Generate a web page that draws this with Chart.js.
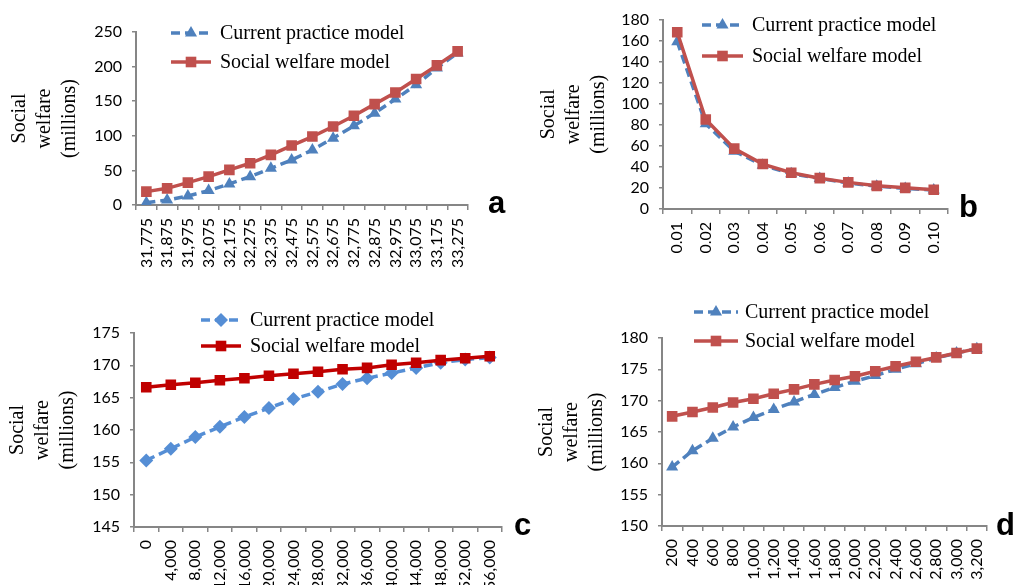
<!DOCTYPE html>
<html>
<head>
<meta charset="utf-8">
<script src="https://cdn.jsdelivr.net/npm/chart.js@4.4.0/dist/chart.umd.min.js"></script>
<style>
  html, body { margin:0; padding:0; background:#fff; }
  #wrap { position:relative; width:1014px; height:585px; overflow:hidden; }
  #wrap canvas { position:absolute; left:0; top:0; }
  .tag { position:absolute; font:bold 31px "Liberation Sans", Arial, sans-serif; line-height:31px; color:#000; }
</style>
</head>
<body>
<div id="wrap">
  <canvas id="ca" width="1014" height="585"></canvas>
  <canvas id="cb" width="1014" height="585"></canvas>
  <canvas id="cc" width="1014" height="585"></canvas>
  <canvas id="cd" width="1014" height="585"></canvas>
  <div class="tag" style="left:488px;top:187px">a</div>
  <div class="tag" style="left:959px;top:191px">b</div>
  <div class="tag" style="left:514px;top:509px">c</div>
  <div class="tag" style="left:996px;top:509px">d</div>
</div>
<script>
// ---- data ----
var aLabels  = ['31,775','31,875','31,975','32,075','32,175','32,275','32,375','32,475','32,575','32,675','32,775','32,875','32,975','33,075','33,175','33,275'];
var aCurrent = [3.4, 7.2, 13, 20.8, 30.4, 41, 53, 65, 79.6, 96.5, 114.4, 132.7, 153, 173.7, 197.9, 219.6];
var aSocial  = [19.3, 24.1, 32.3, 41, 50.7, 60.3, 72.4, 85.9, 98.9, 113.4, 128.9, 145.8, 162.6, 182, 201.7, 222];

var bLabels  = ['0.01','0.02','0.03','0.04','0.05','0.06','0.07','0.08','0.09','0.10'];
var bCurrent = [159, 81, 55, 41.5, 33.5, 29, 24.7, 21.7, 19.5, 18];
var bSocial  = [168, 85, 57.4, 42.7, 34.5, 29.3, 25.3, 22, 20.1, 18.3];

var cLabels  = ['0','4,000','8,000','12,000','16,000','20,000','24,000','28,000','32,000','36,000','40,000','44,000','48,000','52,000','56,000'];
var cCurrent = [155.3, 157.1, 158.9, 160.5, 162.0, 163.4, 164.8, 165.9, 167.1, 168.0, 168.8, 169.6, 170.4, 170.9, 171.2];
var cSocial  = [166.6, 167.0, 167.3, 167.7, 168.0, 168.4, 168.7, 169.0, 169.4, 169.6, 170.1, 170.4, 170.8, 171.1, 171.4];

var dLabels  = ['200','400','600','800','1,000','1,200','1,400','1,600','1,800','2,000','2,200','2,400','2,600','2,800','3,000','3,200'];
var dCurrent = [159.4, 162.0, 164.0, 165.8, 167.3, 168.6, 169.8, 171.0, 172.1, 173.1, 174.0, 175.0, 175.9, 176.8, 177.6, 178.3];
var dSocial  = [167.5, 168.2, 168.9, 169.7, 170.3, 171.1, 171.8, 172.6, 173.3, 173.9, 174.7, 175.5, 176.2, 176.9, 177.6, 178.3];

var seriesNames = ['Current practice model', 'Social welfare model'];
var yTitle = ['Social', 'welfare', '(millions)'];

var AXIS = '#868686';
var SERIF = '"Liberation Serif", "Times New Roman", serif';
var LW = 3.5;

function drawMarker(ctx, style, x, y, r, color){
    ctx.save();
    ctx.fillStyle = color;
    ctx.beginPath();
    if (style === 'triangle') {
        ctx.moveTo(x, y - r);
        ctx.lineTo(x + r*0.866, y + r*0.5);
        ctx.lineTo(x - r*0.866, y + r*0.5);
    } else if (style === 'rectRot') {
        ctx.moveTo(x, y - r); ctx.lineTo(x + r, y); ctx.lineTo(x, y + r); ctx.lineTo(x - r, y);
    } else {
        var s = r * Math.SQRT1_2;
        ctx.rect(x - s, y - s, 2*s, 2*s);
    }
    ctx.closePath();
    ctx.fill();
    ctx.restore();
}

// legend drawn inside the plot, like the original figure
var boxLegend = {
    id: 'boxLegend',
    afterDraw: function(chart, args, opts){
        var ctx = chart.ctx;
        chart.data.datasets.forEach(function(ds, i){
            var y = opts.rows[i];
            ctx.save();
            ctx.strokeStyle = ds.borderColor;
            ctx.lineWidth = LW;
            ctx.setLineDash(ds.borderDash || []);
            ctx.beginPath();
            ctx.moveTo(opts.x, y);
            ctx.lineTo(opts.x + opts.len, y);
            ctx.stroke();
            ctx.restore();
            drawMarker(ctx, ds.pointStyle, opts.x + opts.len/2, y, ds.pointRadius, ds.borderColor);
            ctx.save();
            ctx.fillStyle = '#000';
            ctx.font = '20px ' + SERIF;
            ctx.textBaseline = 'middle';
            ctx.fillText(ds.label, opts.textX, y + 1);
            ctx.restore();
        });
    }
};

function makeChart(id, labels, cur, soc, look){
    var ctx = document.getElementById(id).getContext('2d');
    return new Chart(ctx, {
        type: 'line',
        data: {
            labels: labels,
            datasets: [
                {
                    label: seriesNames[0],
                    data: cur,
                    borderColor: look.blue,
                    backgroundColor: look.blue,
                    borderWidth: LW,
                    borderDash: [9, 5],
                    pointStyle: look.bluePoint,
                    pointRadius: 7,
                    pointBackgroundColor: look.blue,
                    pointBorderColor: look.blue,
                    pointBorderWidth: 0,
                    tension: 0,
                    order: 1
                },
                {
                    label: seriesNames[1],
                    data: soc,
                    borderColor: look.red,
                    backgroundColor: look.red,
                    borderWidth: LW,
                    pointStyle: 'rect',
                    pointRadius: 7.5,
                    pointBackgroundColor: look.red,
                    pointBorderColor: look.red,
                    pointBorderWidth: 0,
                    tension: 0,
                    order: 0
                }
            ]
        },
        options: {
            responsive: false,
            animation: false,
            events: [],
            layout: { padding: look.pad },
            plugins: {
                legend: { display: false },
                tooltip: { enabled: false },
                boxLegend: look.legend
            },
            scales: {
                x: {
                    type: 'category',
                    offset: true,
                    afterFit: function(s){ s.height = look.xH; },
                    grid: { offset: true, drawOnChartArea: false, drawTicks: true, tickLength: 5, color: AXIS, lineWidth: 1.5 },
                    border: { display: true, color: AXIS, width: 2 },
                    ticks: {
                        autoSkip: false, minRotation: 90, maxRotation: 90, padding: 8,
                        color: '#000', font: { family: 'Lato', size: 16 }
                    }
                },
                y: {
                    min: look.min, max: look.max,
                    afterFit: function(s){ s.width = look.yW; },
                    grid: { drawOnChartArea: false, drawTicks: true, tickLength: 4, color: AXIS, lineWidth: 1.5 },
                    border: { display: true, color: AXIS, width: 2 },
                    ticks: { stepSize: look.step, autoSkip: false, padding: 10, color: '#000', font: { family: 'Lato', size: 16 } },
                    title: {
                        display: true, text: yTitle, color: '#000',
                        font: { family: SERIF, size: 20, lineHeight: 1.25 },
                        padding: { top: look.titlePad, bottom: 0 }
                    }
                }
            }
        },
        plugins: [boxLegend]
    });
}

var excelBlue = '#4F81BD', excelRed = '#C0504D';

makeChart('ca', aLabels, aCurrent, aSocial, {
    blue: excelBlue, red: excelRed, bluePoint: 'triangle',
    min: 0, max: 250, step: 50,
    pad: { left: 0, top: 32, right: 546, bottom: 295 }, yW: 136, xH: 85, titlePad: 7.5,
    legend: { x: 171, len: 40, textX: 220, rows: [33, 62] }
});
makeChart('cb', bLabels, bCurrent, bSocial, {
    blue: excelBlue, red: excelRed, bluePoint: 'triangle',
    min: 0, max: 180, step: 20,
    pad: { left: 500, top: 13, right: 66, bottom: 295 }, yW: 163, xH: 81, titlePad: 36.5,
    legend: { x: 702, len: 41, textX: 752, rows: [25, 56] }
});
makeChart('cc', cLabels, cCurrent, cSocial, {
    blue: '#558ED5', red: '#C00000', bluePoint: 'rectRot',
    min: 145, max: 175, step: 5,
    pad: { left: 0, top: 333, right: 512, bottom: 0 }, yW: 134, xH: 58, titlePad: 5.5,
    legend: { x: 201, len: 40, textX: 250, rows: [320, 346] }
});
makeChart('cd', dLabels, dCurrent, dSocial, {
    blue: excelBlue, red: excelRed, bluePoint: 'triangle',
    min: 150, max: 180, step: 5,
    pad: { left: 500, top: 338, right: 27, bottom: 0 }, yW: 162, xH: 59, titlePad: 34.5,
    legend: { x: 694, len: 44, textX: 745, rows: [312, 341] }
});
</script>
</body>
</html>
